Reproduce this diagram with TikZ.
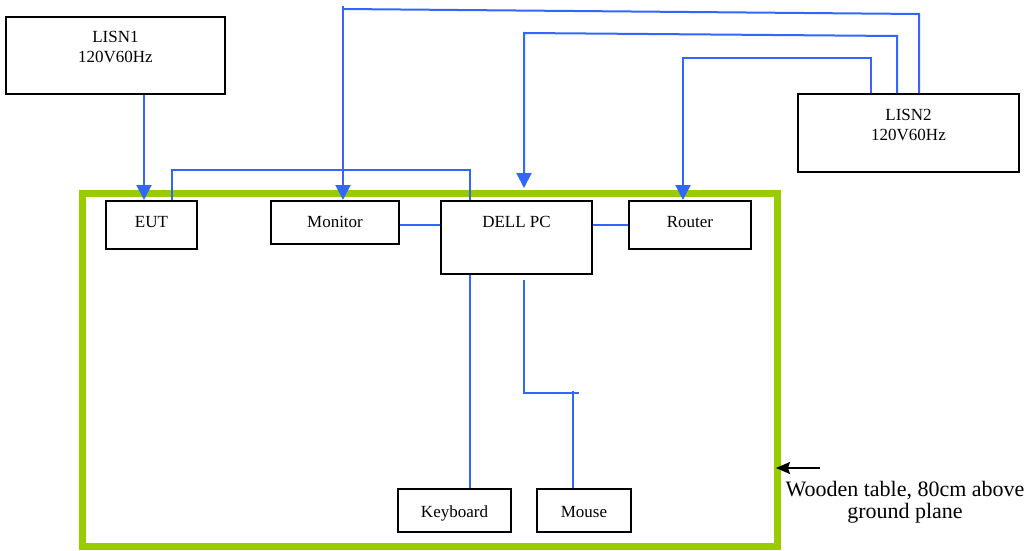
\documentclass[tikz,border=0pt]{standalone}
\usepackage{fontspec}
\setmainfont{Liberation Serif}
\usepackage{xcolor}
\definecolor{cWire}{HTML}{3366FF}
\definecolor{cTable}{HTML}{99CC00}
\usepackage{tikz}
\usetikzlibrary{positioning,arrows.meta}
\tikzset{
  node-box/.style={draw=black,line width=2pt,anchor=north west,
    inner xsep=0pt,inner ysep=0pt,text height=26pt,align=center,
    font=\fontsize{17}{20}\selectfont},
  node-table/.style={draw=cTable,line width=7pt,anchor=north west,
    inner sep=0pt},
  wire/.style={draw=cWire,line width=2pt},
  wire-arrow/.style={wire,-{Triangle[length=15pt,width=15pt]}},
  arrow-note/.style={-{Stealth[length=14pt,width=12pt,inset=2pt]},
    line width=1.5pt,draw=black},
}

\begin{document}
\begin{tikzpicture}[x=1pt,y=-1pt]
  \useasboundingbox (0,0) rectangle (1033,551);
  % table
  \node[node-table,minimum width=695.5pt,minimum height=353pt] (table) at (78.5,189.5) {};
  % units
  \node[node-box,minimum width=219pt,text height=46pt,text depth=31pt] (lisn1) at (5,16) {LISN1\\120V60Hz};
  \node[node-box,minimum width=221pt,text height=46pt,text depth=32pt] (lisn2) at (797,93) {LISN2\\120V60Hz};
  \node[node-box,minimum width=91pt,text depth=22pt] (eut) at (105,200) {EUT};
  \node[node-box,minimum width=128pt,text depth=17pt] (monitor) at (270,200) {Monitor};
  \node[node-box,minimum width=151pt,text depth=47pt] (dellpc) at (440,200) {DELL PC};
  \node[node-box,minimum width=122pt,text depth=22pt] (router) at (628,200) {Router};
  \node[node-box,minimum width=113pt,text height=28pt,text depth=15pt] (keyboard) at (397,488) {Keyboard};
  \node[node-box,minimum width=94pt,text height=28pt,text depth=15pt] (mouse) at (536,488) {Mouse};
  \node[font=\fontsize{22}{22}\selectfont,align=center,anchor=north,inner sep=0pt] (note) at (905,481) {Wooden table, 80cm above\\ground plane};
  % power
  \draw[wire-arrow] ([xshift=28.5pt]lisn1.south) -- ([xshift=28.5pt]lisn1.south |- eut.north);
  \draw[wire] ([xshift=10.5pt]lisn2.north) -- ++(0,-79) -- ([xshift=8pt]monitor.north |- 0,9);
  \draw[wire-arrow] ([xshift=8pt]monitor.north |- 0,6) -- ([xshift=8pt]monitor.north);
  \draw[wire-arrow] ([xshift=-11.5pt]lisn2.north) -- ++(0,-57) -- ([xshift=7.5pt]dellpc.north |- 0,33) -- ([xshift=7.5pt,yshift=12pt]dellpc.north);
  \draw[wire-arrow] ([xshift=-37.5pt]lisn2.north) -- ++(0,-35) -| ([xshift=-7pt]router.north);
  % signal
  \draw[wire] ([xshift=20.5pt]eut.north) -- ++(0,-30) -| ([xshift=-46.5pt]dellpc.north);
  \draw[wire] ([yshift=-2.5pt]monitor.east) -- ([yshift=-2.5pt]monitor.east -| dellpc.west);
  \draw[wire] (router.west -| dellpc.east) -- (router.west);
  \draw[wire] ([xshift=-46.5pt]dellpc.south) -- ([xshift=-46.5pt]dellpc.south |- keyboard.north);
  \draw[wire] ([xshift=7.5pt,yshift=-5pt]dellpc.south) -- ++(0,113) -- ++(55,0);
  \draw[wire] ([xshift=-11pt]mouse.north) -- ++(0,-97);
  % note
  \coordinate (note-tail) at (820,468);
  \draw[arrow-note] (note-tail) -- ([xshift=-5pt]note-tail -| table.east);
\end{tikzpicture}
\end{document}
